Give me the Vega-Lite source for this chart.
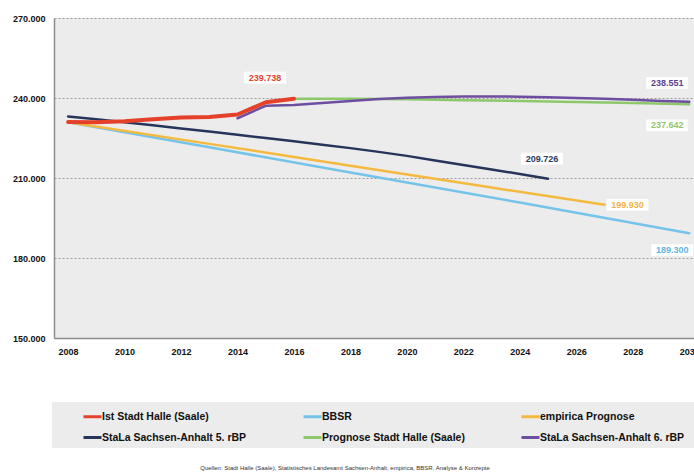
{
  "$schema": "https://vega.github.io/schema/vega-lite/v6.json",
  "width": 640,
  "height": 320,
  "autosize": {"type": "none"},
  "padding": {"left": 54, "top": 18, "right": 0, "bottom": 136},
  "background": "#ffffff",
  "config": {
    "view": {"fill": "#ececec", "stroke": null},
    "locale": {"number": {"decimal": ",", "thousands": ".", "grouping": [3], "currency": ["", " €"]}}
  },
  "title": {
    "text": "Quellen:  Stadt Halle (Saale), Statistisches Landesamt Sachsen-Anhalt, empirica, BBSR, Analyse & Konzepte",
    "orient": "bottom",
    "frame": "group",
    "anchor": "middle",
    "offset": 17,
    "dx": -29,
    "font": "Liberation Sans",
    "fontSize": 6,
    "fontWeight": "normal",
    "color": "#333333"
  },
  "data": {
    "values": [
      {"series": "StaLa Sachsen-Anhalt 5. rBP", "year": 2008, "value": 233100},
      {"series": "StaLa Sachsen-Anhalt 5. rBP", "year": 2009, "value": 232000},
      {"series": "StaLa Sachsen-Anhalt 5. rBP", "year": 2010, "value": 230900},
      {"series": "StaLa Sachsen-Anhalt 5. rBP", "year": 2011, "value": 229800},
      {"series": "StaLa Sachsen-Anhalt 5. rBP", "year": 2012, "value": 228600},
      {"series": "StaLa Sachsen-Anhalt 5. rBP", "year": 2013, "value": 227400},
      {"series": "StaLa Sachsen-Anhalt 5. rBP", "year": 2014, "value": 226200},
      {"series": "StaLa Sachsen-Anhalt 5. rBP", "year": 2015, "value": 225000},
      {"series": "StaLa Sachsen-Anhalt 5. rBP", "year": 2016, "value": 223800},
      {"series": "StaLa Sachsen-Anhalt 5. rBP", "year": 2017, "value": 222500},
      {"series": "StaLa Sachsen-Anhalt 5. rBP", "year": 2018, "value": 221200},
      {"series": "StaLa Sachsen-Anhalt 5. rBP", "year": 2019, "value": 219800},
      {"series": "StaLa Sachsen-Anhalt 5. rBP", "year": 2020, "value": 218300},
      {"series": "StaLa Sachsen-Anhalt 5. rBP", "year": 2021, "value": 216600},
      {"series": "StaLa Sachsen-Anhalt 5. rBP", "year": 2022, "value": 214900},
      {"series": "StaLa Sachsen-Anhalt 5. rBP", "year": 2023, "value": 213200},
      {"series": "StaLa Sachsen-Anhalt 5. rBP", "year": 2024, "value": 211500},
      {"series": "StaLa Sachsen-Anhalt 5. rBP", "year": 2025, "value": 209726},
      {"series": "BBSR", "year": 2008, "value": 230900},
      {"series": "BBSR", "year": 2013, "value": 221500},
      {"series": "BBSR", "year": 2018, "value": 212100},
      {"series": "BBSR", "year": 2024, "value": 200800},
      {"series": "BBSR", "year": 2030, "value": 189300},
      {"series": "empirica Prognose", "year": 2008, "value": 230900},
      {"series": "empirica Prognose", "year": 2013, "value": 222800},
      {"series": "empirica Prognose", "year": 2018, "value": 214600},
      {"series": "empirica Prognose", "year": 2023, "value": 206400},
      {"series": "empirica Prognose", "year": 2027, "value": 199930},
      {"series": "Prognose Stadt Halle (Saale)", "year": 2016, "value": 239738},
      {"series": "Prognose Stadt Halle (Saale)", "year": 2018, "value": 239700},
      {"series": "Prognose Stadt Halle (Saale)", "year": 2020, "value": 239500},
      {"series": "Prognose Stadt Halle (Saale)", "year": 2022, "value": 239200},
      {"series": "Prognose Stadt Halle (Saale)", "year": 2024, "value": 238900},
      {"series": "Prognose Stadt Halle (Saale)", "year": 2026, "value": 238500},
      {"series": "Prognose Stadt Halle (Saale)", "year": 2028, "value": 238100},
      {"series": "Prognose Stadt Halle (Saale)", "year": 2030, "value": 237642},
      {"series": "StaLa Sachsen-Anhalt 6. rBP", "year": 2014, "value": 232400},
      {"series": "StaLa Sachsen-Anhalt 6. rBP", "year": 2015, "value": 237100},
      {"series": "StaLa Sachsen-Anhalt 6. rBP", "year": 2016, "value": 237400},
      {"series": "StaLa Sachsen-Anhalt 6. rBP", "year": 2017, "value": 238100},
      {"series": "StaLa Sachsen-Anhalt 6. rBP", "year": 2018, "value": 238900},
      {"series": "StaLa Sachsen-Anhalt 6. rBP", "year": 2019, "value": 239600},
      {"series": "StaLa Sachsen-Anhalt 6. rBP", "year": 2020, "value": 240100},
      {"series": "StaLa Sachsen-Anhalt 6. rBP", "year": 2021, "value": 240400},
      {"series": "StaLa Sachsen-Anhalt 6. rBP", "year": 2022, "value": 240600},
      {"series": "StaLa Sachsen-Anhalt 6. rBP", "year": 2023, "value": 240600},
      {"series": "StaLa Sachsen-Anhalt 6. rBP", "year": 2024, "value": 240500},
      {"series": "StaLa Sachsen-Anhalt 6. rBP", "year": 2025, "value": 240300},
      {"series": "StaLa Sachsen-Anhalt 6. rBP", "year": 2026, "value": 240000},
      {"series": "StaLa Sachsen-Anhalt 6. rBP", "year": 2027, "value": 239700},
      {"series": "StaLa Sachsen-Anhalt 6. rBP", "year": 2028, "value": 239300},
      {"series": "StaLa Sachsen-Anhalt 6. rBP", "year": 2029, "value": 238900},
      {"series": "StaLa Sachsen-Anhalt 6. rBP", "year": 2030, "value": 238551},
      {"series": "Ist Stadt Halle (Saale)", "year": 2008, "value": 231000},
      {"series": "Ist Stadt Halle (Saale)", "year": 2009, "value": 230900},
      {"series": "Ist Stadt Halle (Saale)", "year": 2010, "value": 231300},
      {"series": "Ist Stadt Halle (Saale)", "year": 2011, "value": 232000},
      {"series": "Ist Stadt Halle (Saale)", "year": 2012, "value": 232700},
      {"series": "Ist Stadt Halle (Saale)", "year": 2013, "value": 232900},
      {"series": "Ist Stadt Halle (Saale)", "year": 2014, "value": 233800},
      {"series": "Ist Stadt Halle (Saale)", "year": 2015, "value": 238400},
      {"series": "Ist Stadt Halle (Saale)", "year": 2016, "value": 239738}
    ]
  },
  "encoding": {
    "x": {
      "field": "year", "type": "quantitative",
      "scale": {"domain": [2007.5, 2030.17], "nice": false, "zero": false},
      "axis": {
        "title": null, "values": [2008, 2010, 2012, 2014, 2016, 2018, 2020, 2022, 2024, 2026, 2028, 2030],
        "format": "d", "grid": false, "ticks": false, "labelFlush": false, "labelOverlap": false,
        "labelPadding": 9, "labelFont": "Liberation Sans", "labelFontSize": 9, "labelFontWeight": "bold",
        "labelColor": "#111111", "domainColor": "#8c8c8c", "domainWidth": 1.5
      }
    },
    "y": {
      "field": "value", "type": "quantitative",
      "scale": {"domain": [150000, 270000], "nice": false, "zero": false},
      "axis": {
        "title": null, "values": [150000, 180000, 210000, 240000, 270000], "format": ",d",
        "ticks": false, "labelPadding": 9, "labelFont": "Liberation Sans", "labelFontSize": 9,
        "labelFontWeight": "bold", "labelColor": "#111111", "domainColor": "#8c8c8c", "domainWidth": 1.5,
        "grid": true, "gridColor": "#9a9a9a", "gridDash": [2, 2], "gridWidth": 1
      }
    }
  },
  "layer": [
    {
      "mark": {"type": "line", "strokeJoin": "round", "strokeCap": "round"},
      "encoding": {
        "color": {
          "field": "series", "type": "nominal",
          "scale": {
            "domain": ["Ist Stadt Halle (Saale)", "BBSR", "empirica Prognose", "StaLa Sachsen-Anhalt 5. rBP", "Prognose Stadt Halle (Saale)", "StaLa Sachsen-Anhalt 6. rBP"],
            "range": ["#e5402a", "#74c3ea", "#f6b940", "#263559", "#8dc96b", "#6d4ea0"]
          },
          "legend": {
            "title": ".", "titleOrient": "right", "titleFontSize": 10, "titlePadding": 7, "titleColor": "#ececec",
            "orient": "none", "legendX": -2, "legendY": 384, "direction": "horizontal",
            "columns": 3, "columnPadding": 29, "rowPadding": 4, "padding": 4,
            "fillColor": "#ececec", "symbolType": "stroke", "symbolSize": 324, "symbolStrokeWidth": 3,
            "symbolOffset": 26, "labelOffset": -1,
            "labelFont": "Liberation Sans", "labelFontSize": 10.5, "labelFontWeight": "bold",
            "labelColor": "#111111", "labelLimit": 300
          }
        },
        "strokeWidth": {"condition": {"test": "datum.series === 'Ist Stadt Halle (Saale)'", "value": 4}, "value": 2.5},
        "order": {"field": "year"}
      }
    },
    {
      "transform": [{"filter": "datum.series === 'Ist Stadt Halle (Saale)' && datum.year === 2016"}],
      "layer": [
        {"mark": {"type": "point", "shape": "M-1,-0.28H1V0.28H-1Z", "size": 1764, "filled": true, "color": "#ffffff", "opacity": 1, "strokeWidth": 0, "xOffset": -29, "yOffset": -21}},
        {"mark": {"type": "text", "xOffset": -29, "yOffset": -21, "font": "Liberation Sans", "fontSize": 9, "fontWeight": "bold", "color": "#e2452f"},
         "encoding": {"text": {"field": "value", "type": "quantitative", "format": ",d"}}}
      ]
    },
    {
      "transform": [{"filter": "datum.series === 'StaLa Sachsen-Anhalt 6. rBP' && datum.year === 2030"}],
      "layer": [
        {"mark": {"type": "point", "shape": "M-1,-0.28H1V0.28H-1Z", "size": 1764, "filled": true, "color": "#ffffff", "opacity": 1, "strokeWidth": 0, "xOffset": -22, "yOffset": -19}},
        {"mark": {"type": "text", "xOffset": -22, "yOffset": -19, "font": "Liberation Sans", "fontSize": 9, "fontWeight": "bold", "color": "#5b3f8c"},
         "encoding": {"text": {"field": "value", "type": "quantitative", "format": ",d"}}}
      ]
    },
    {
      "transform": [{"filter": "datum.series === 'Prognose Stadt Halle (Saale)' && datum.year === 2030"}],
      "layer": [
        {"mark": {"type": "point", "shape": "M-1,-0.28H1V0.28H-1Z", "size": 1764, "filled": true, "color": "#ffffff", "opacity": 1, "strokeWidth": 0, "xOffset": -22, "yOffset": 21}},
        {"mark": {"type": "text", "xOffset": -22, "yOffset": 21, "font": "Liberation Sans", "fontSize": 9, "fontWeight": "bold", "color": "#92c56e"},
         "encoding": {"text": {"field": "value", "type": "quantitative", "format": ",d"}}}
      ]
    },
    {
      "transform": [{"filter": "datum.series === 'StaLa Sachsen-Anhalt 5. rBP' && datum.year === 2025"}],
      "layer": [
        {"mark": {"type": "point", "shape": "M-1,-0.28H1V0.28H-1Z", "size": 1764, "filled": true, "color": "#ffffff", "opacity": 1, "strokeWidth": 0, "xOffset": -6, "yOffset": -20}},
        {"mark": {"type": "text", "xOffset": -6, "yOffset": -20, "font": "Liberation Sans", "fontSize": 9, "fontWeight": "bold", "color": "#2c3a5a"},
         "encoding": {"text": {"field": "value", "type": "quantitative", "format": ",d"}}}
      ]
    },
    {
      "transform": [{"filter": "datum.series === 'empirica Prognose' && datum.year === 2027"}],
      "layer": [
        {"mark": {"type": "point", "shape": "M-1,-0.28H1V0.28H-1Z", "size": 1764, "filled": true, "color": "#ffffff", "opacity": 1, "strokeWidth": 0, "xOffset": 23, "yOffset": 0}},
        {"mark": {"type": "text", "xOffset": 23, "yOffset": 0, "font": "Liberation Sans", "fontSize": 9, "fontWeight": "bold", "color": "#f2b244"},
         "encoding": {"text": {"field": "value", "type": "quantitative", "format": ",d"}}}
      ]
    },
    {
      "transform": [{"filter": "datum.series === 'BBSR' && datum.year === 2030"}],
      "layer": [
        {"mark": {"type": "point", "shape": "M-1,-0.28H1V0.28H-1Z", "size": 1764, "filled": true, "color": "#ffffff", "opacity": 1, "strokeWidth": 0, "xOffset": -17, "yOffset": 17}},
        {"mark": {"type": "text", "xOffset": -17, "yOffset": 17, "font": "Liberation Sans", "fontSize": 9, "fontWeight": "bold", "color": "#5fb6e3"},
         "encoding": {"text": {"field": "value", "type": "quantitative", "format": ",d"}}}
      ]
    }
  ]
}
